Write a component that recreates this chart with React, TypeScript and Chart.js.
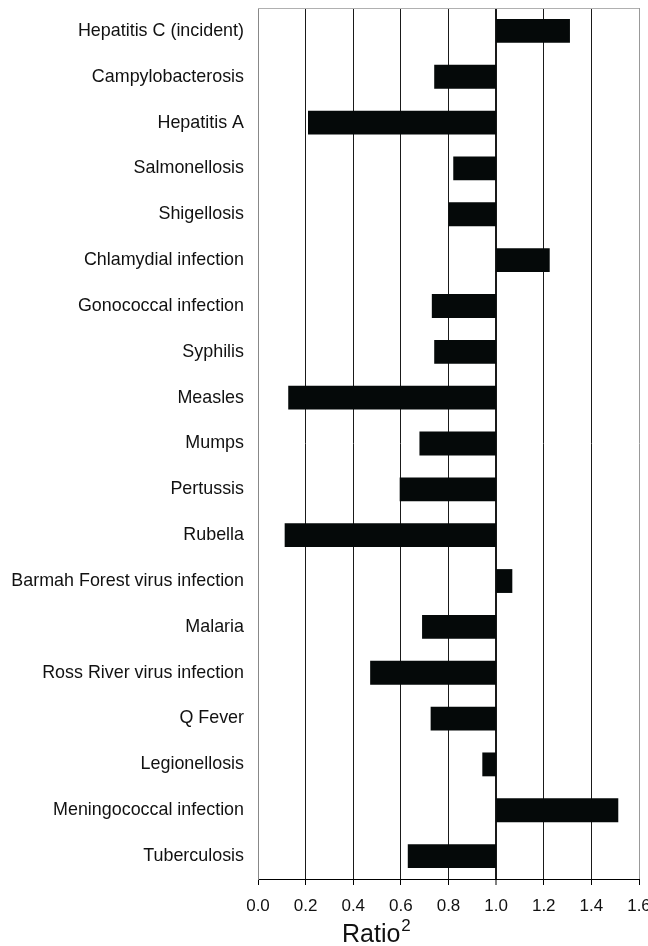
import React, { useEffect, useRef } from "react";
import { Chart, registerables } from "chart.js";

Chart.register(...registerables);

const categories: string[] = [
  "Hepatitis C (incident)",
  "Campylobacterosis",
  "Hepatitis A",
  "Salmonellosis",
  "Shigellosis",
  "Chlamydial infection",
  "Gonococcal infection",
  "Syphilis",
  "Measles",
  "Mumps",
  "Pertussis",
  "Rubella",
  "Barmah Forest virus infection",
  "Malaria",
  "Ross River virus infection",
  "Q Fever",
  "Legionellosis",
  "Meningococcal infection",
  "Tuberculosis",
];

const ratios: number[] = [
  1.31, 0.74, 0.21, 0.82, 0.8, 1.225, 0.73, 0.74, 0.127, 0.678, 0.595, 0.112,
  1.068, 0.689, 0.471, 0.725, 0.942, 1.513, 0.629,
];

const baseline = 1.0;
const xMin = 0;
const xMax = 1.6;
const xStep = 0.2;
const axisTitle = "Ratio";
const axisTitleSup = "2";

const FONT = "'Liberation Sans', Arial, Helvetica, sans-serif";

export default function App() {
  const ref = useRef<HTMLCanvasElement | null>(null);

  useEffect(() => {
    if (!ref.current) return;
    const data = ratios.map((v) => [Math.min(v, baseline), Math.max(v, baseline)]);

    const framePlugin = {
      id: "frame",
      beforeDatasetsDraw(chart: any) {
        const { ctx, chartArea } = chart;
        ctx.save();
        ctx.strokeStyle = "#b0b0b0";
        ctx.lineWidth = 1;
        ctx.beginPath();
        ctx.moveTo(chartArea.left, Math.round(chartArea.top) + 0.5);
        ctx.lineTo(chartArea.right, Math.round(chartArea.top) + 0.5);
        ctx.stroke();
        ctx.restore();
      },
      afterDraw(chart: any) {
        const { ctx, chartArea } = chart;
        ctx.save();
        ctx.fillStyle = "#111";
        ctx.textBaseline = "alphabetic";
        ctx.textAlign = "left";
        ctx.font = `25px ${FONT}`;
        const x0 = chartArea.left + 84;
        const y0 = chartArea.bottom + 63;
        ctx.fillText(axisTitle, x0, y0);
        const w = ctx.measureText(axisTitle).width;
        ctx.font = `17px ${FONT}`;
        ctx.fillText(axisTitleSup, x0 + w + 1, y0 - 11);
        ctx.restore();
      },
    };

    const chart = new Chart(ref.current, {
      type: "bar",
      data: {
        labels: categories,
        datasets: [
          {
            data: data as any,
            backgroundColor: "#050909",
            borderWidth: 0,
            borderSkipped: false,
            barPercentage: 0.52,
            categoryPercentage: 1,
          },
        ],
      },
      options: {
        indexAxis: "y",
        responsive: false,
        animation: false,
        devicePixelRatio: 1,
        layout: { padding: { top: 8, right: 31, left: 0, bottom: 0 } },
        plugins: {
          legend: { display: false },
          tooltip: { enabled: false },
        },
        scales: {
          x: {
            type: "linear",
            min: xMin,
            max: xMax,
            ticks: {
              stepSize: xStep,
              color: "#111",
              font: { family: FONT, size: 17 },
              padding: 11,
              callback: (v: any) => Number(v).toFixed(1),
            },
            grid: {
              drawTicks: true,
              tickLength: 6,
              tickColor: "#000",
              tickWidth: 1,
              color: (c: any) => {
                const v = c.tick ? c.tick.value : 0;
                if (Math.abs(v - xMin) < 1e-6 || Math.abs(v - xMax) < 1e-6) return "#999";
                return "#1a1a1a";
              },
              lineWidth: (c: any) => {
                const v = c.tick ? c.tick.value : 0;
                return Math.abs(v - baseline) < 1e-6 ? 2 : 1;
              },
            },
            border: { display: true, color: "#000", width: 1 },
            afterFit: (s: any) => {
              s.height = 67;
            },
          },
          y: {
            type: "category",
            ticks: {
              color: "#111",
              font: { family: FONT, size: 17.9 },
              padding: 14,
            },
            grid: { display: false, drawTicks: false },
            border: { display: true, color: "#888", width: 1 },
            afterFit: (s: any) => {
              s.width = 258;
              s.paddingTop = 0;
              s.paddingBottom = 0;
            },
          },
        },
      },
      plugins: [framePlugin],
    });
    return () => chart.destroy();
  }, []);

  return (
    <div
      style={{
        position: "absolute",
        left: 0,
        top: 0,
        width: 648,
        height: 946,
        overflow: "hidden",
        background: "#fff",
      }}
    >
      <canvas ref={ref} width={670} height={946} style={{ display: "block" }} />
    </div>
  );
}
